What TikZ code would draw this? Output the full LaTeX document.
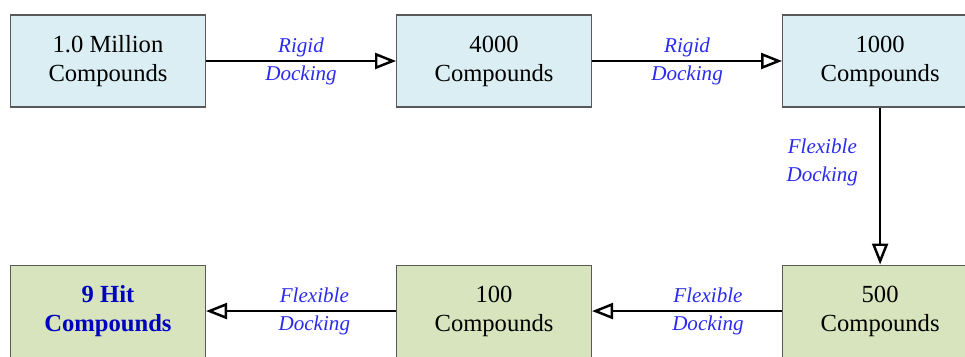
\documentclass[tikz,border=0pt]{standalone}
\usepackage{fontspec}
\setmainfont{Liberation Serif}
\usetikzlibrary{positioning,arrows.meta}

\definecolor{stageblue}{HTML}{DAEEF3}
\definecolor{stagegreen}{HTML}{D7E4BD}
\definecolor{dockblue}{HTML}{2B2BF0}
\definecolor{hitblue}{HTML}{0000C0}

\begin{document}
\begin{tikzpicture}[node distance=3.8cm, >={Triangle[open, length=4.2mm, width=3.2mm]},
  stage/.style={draw=black!65, line width=0.6pt, rectangle, minimum width=3.9cm, minimum height=1.84cm,
    align=center, font=\fontsize{14}{16.5}\selectfont},
  dock/.style={align=center, text=dockblue, font=\fontsize{12}{16}\selectfont\itshape},
  flow/.style={->, line width=1.4pt}]
  \useasboundingbox (0,0) rectangle (19.3,7.12);
  % screening funnel, top row
  \node[stage, fill=stageblue] (million) at (2.16,5.9) {1.0 Million\\Compounds};
  \node[stage, fill=stageblue, right=of million] (k4) {4000\\Compounds};
  \node[stage, fill=stageblue, right=of k4] (k1) {1000\\Compounds};
  % bottom row, right to left
  \node[stage, fill=stagegreen, below=3.14cm of k1] (h500) {500\\Compounds};
  \node[stage, fill=stagegreen, left=of h500] (h100) {100\\Compounds};
  \node[stage, fill=stagegreen, left=of h100, text=hitblue, font=\fontsize{14}{16.5}\selectfont\bfseries] (hits) {9 Hit\\Compounds};
  \draw[flow] (million) -- (k4) node[dock, midway] {Rigid\\Docking};
  \draw[flow] (k4) -- (k1) node[dock, midway] {Rigid\\Docking};
  \draw[flow] (k1) -- (h500) node[dock, pos=0.35, left=3mm] {Flexible\\Docking};
  \draw[flow] (h500) -- (h100) node[dock, pos=0.39] {Flexible\\Docking};
  \draw[flow] (h100) -- (hits) node[dock, pos=0.43] {Flexible\\Docking};
\end{tikzpicture}
\end{document}
